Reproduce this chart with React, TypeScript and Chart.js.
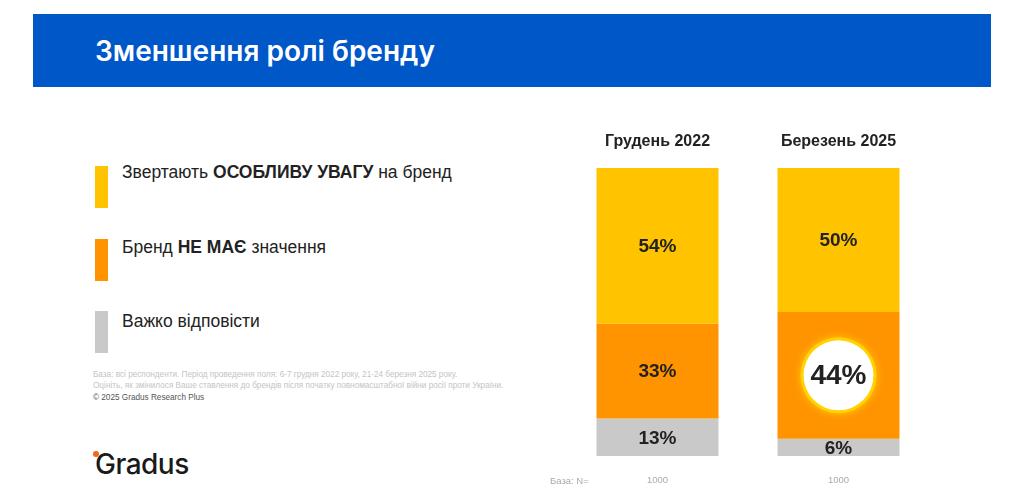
import { Chart, registerables } from "chart.js";
import { useEffect, useRef } from "react";

Chart.register(...registerables);

// data
const periods = ["Грудень 2022", "Березень 2025"];
const attentionValues = [54, 50];
const noMatterValues = [33, 44];
const hardToSayValues = [13, 6];
const baseN = [1000, 1000];

const seriesNames = [
	"Звертають ОСОБЛИВУ УВАГУ на бренд",
	"Бренд НЕ МАЄ значення",
	"Важко відповісти",
];
// legend text split into plain / bold pieces
const legendParts: [string, boolean][][] = [
	[["Звертають ", false], ["ОСОБЛИВУ УВАГУ", true], [" на бренд", false]],
	[["Бренд ", false], ["НЕ МАЄ", true], [" значення", false]],
	[["Важко відповісти", false]],
];
const seriesColors = ["#FFC300", "#FF9300", "#C9C9C9"];
const highlight = { dataset: 1, index: 1 };

const FONT = "'Liberation Sans', Arial, sans-serif";

const labelsPlugin = {
	id: "slideLabels",
	afterDatasetsDraw(chart: Chart) {
		const ctx = chart.ctx;
		const xScale = chart.scales.x;
		ctx.save();
		chart.data.datasets.forEach((ds, di) => {
			const meta = chart.getDatasetMeta(di);
			meta.data.forEach((el: any, i) => {
				const v = ds.data[i] as number;
				const cx = el.x;
				const cy = (el.y + el.base) / 2;
				const isHi = di === highlight.dataset && i === highlight.index;
				if (isHi) {
					ctx.save();
					ctx.shadowColor = "rgba(255,210,0,0.9)";
					ctx.shadowBlur = 8;
					ctx.beginPath();
					ctx.arc(cx, cy, 38, 0, Math.PI * 2);
					ctx.fillStyle = "#FFD200";
					ctx.fill();
					ctx.restore();
					ctx.beginPath();
					ctx.arc(cx, cy, 35, 0, Math.PI * 2);
					ctx.fillStyle = "#ffffff";
					ctx.fill();
				}
				ctx.fillStyle = "#222";
				ctx.font = `bold ${isHi ? 28 : 19}px ${FONT}`;
				ctx.textAlign = "center";
				ctx.textBaseline = "middle";
				ctx.fillText(`${v}%`, cx, cy + 1);
			});
		});
		// column headers and base sizes
		periods.forEach((p, i) => {
			const x = xScale.getPixelForValue(i);
			ctx.fillStyle = "#222";
			ctx.font = `bold 16px ${FONT}`;
			ctx.textAlign = "center";
			ctx.textBaseline = "middle";
			ctx.fillText(p, x, 142);
			ctx.fillStyle = "#aaa";
			ctx.font = `9.5px ${FONT}`;
			ctx.fillText(String(baseN[i]), x, 480);
		});
		ctx.textAlign = "left";
		ctx.fillText("База: N=", 550, 481);
		ctx.restore();
	},
};

const StackedChart = () => {
	const canvasRef = useRef<HTMLCanvasElement>(null);
	const chartRef = useRef<Chart | null>(null);

	useEffect(() => {
		if (!canvasRef.current) return;
		if (chartRef.current) chartRef.current.destroy();
		const values = [attentionValues, noMatterValues, hardToSayValues];
		chartRef.current = new Chart(canvasRef.current, {
			type: "bar",
			data: {
				labels: periods,
				datasets: seriesNames.map((name, i) => ({
					label: name,
					data: values[i],
					backgroundColor: seriesColors[i],
					borderWidth: 0,
					barPercentage: 1,
					categoryPercentage: 0.674,
				})),
			},
			options: {
				responsive: false,
				animation: false,
				devicePixelRatio: 1,
				layout: { padding: { left: 567, right: 95, top: 168, bottom: 47 } },
				scales: {
					x: { stacked: true, display: false },
					// reversed so the first series sits on top, as on the slide
					y: { stacked: true, display: false, min: 0, max: 100, reverse: true },
				},
				plugins: {
					legend: { display: false },
					tooltip: { enabled: false },
				},
			},
			plugins: [labelsPlugin],
		});
		return () => {
			chartRef.current?.destroy();
		};
	}, []);

	return (
		<canvas
			ref={canvasRef}
			width={1024}
			height={503}
			style={{ position: "absolute", left: 0, top: 0, width: 1024, height: 503 }}
		/>
	);
};

export default function App() {
	return (
		<div
			style={{
				position: "fixed",
				left: 0,
				top: 0,
				width: 1024,
				height: 503,
				background: "#fff",
				fontFamily: FONT,
				overflow: "hidden",
			}}
		>
			<div
				style={{
					position: "absolute",
					left: 33,
					top: 14,
					width: 958,
					height: 73,
					background: "#0057C8",
				}}
			/>
			<div
				style={{
					position: "absolute",
					left: 95,
					top: 34,
					color: "#fff",
					fontFamily: "Inter, 'Open Sans', sans-serif",
					fontWeight: 600,
					fontSize: 28,
					lineHeight: "34px",
				}}
			>
				Зменшення ролі бренду
			</div>

			{legendParts.map((parts, i) => (
				<div key={i}>
					<div
						style={{
							position: "absolute",
							left: 95,
							top: 166 + i * 72.5,
							width: 13,
							height: 42,
							background: seriesColors[i],
						}}
					/>
					<div
						style={{
							position: "absolute",
							left: 122,
							top: 162 + i * 74.5,
							fontSize: 17.5,
							lineHeight: "20px",
							color: "#222",
							whiteSpace: "nowrap",
						}}
					>
						{parts.map(([t, b], j) => (
							<span key={j} style={{ fontWeight: b ? 700 : 400 }}>
								{t}
							</span>
						))}
					</div>
				</div>
			))}

			<div
				style={{
					position: "absolute",
					left: 93,
					top: 370,
					fontSize: 8.2,
					lineHeight: "10.5px",
					color: "#c4c4c4",
					whiteSpace: "nowrap",
				}}
			>
				<div>
					База: всі респонденти. Період проведення поля: 6-7 грудня 2022 року, 21-24 березня 2025 року.
				</div>
				<div>
					Оцініть, як змінилося Ваше ставлення до брендів після початку повномасштабної війни росії проти України.
				</div>
				<div style={{ color: "#555", marginTop: 2 }}>© 2025 Gradus Research Plus</div>
			</div>

			<div
				style={{
					position: "absolute",
					left: 95,
					top: 447,
					fontFamily: "Inter, sans-serif",
					fontSize: 28,
					fontWeight: 500,
					color: "#1a1a1a",
					letterSpacing: -0.5,
				}}
			>
				Gradus
			</div>
			<div
				style={{
					position: "absolute",
					left: 93,
					top: 451,
					width: 6,
					height: 6,
					borderRadius: 3,
					background: "#F26522",
				}}
			/>

			<StackedChart />
		</div>
	);
}
